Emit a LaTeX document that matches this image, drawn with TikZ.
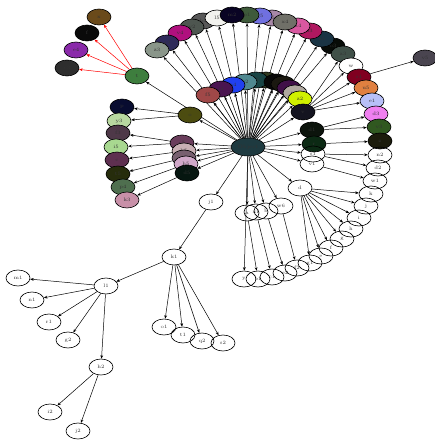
\documentclass[tikz,border=0pt]{standalone}
\usetikzlibrary{positioning, shapes.geometric, arrows.meta, backgrounds}

\begin{document}
\begin{tikzpicture}[x=1pt, y=-1pt,
        blob/.style={ellipse, draw=black, line width=0.6pt, minimum width=24pt, minimum height=16pt, inner sep=0pt, font=\fontsize{5}{5}\selectfont, text=black!80},
        link/.style={draw, line width=0.5pt, -{Stealth[length=3.5pt, width=2.8pt]}},
        red_link/.style={link, red}
    ]
        \useasboundingbox (0,0) rectangle (435,441);

        % Filled nodes (name/x/y/fill/label)
        \foreach \n/\x/\y/\c/\l in {r5/272/18/A888A8/r5, g5/260/16/7070E0/g5, p1/247/15/3E5A3A/p1,
            b4/203/21/585858/b4, l5/217/18/F2F2EE/l5, m2/232/15/0A0424/m2, y2/192/27/4E5650/y2,
            v4/180/33/B0107E/v4, g3/167/43/2E2A5A/g3, z3/157/50/8A968A/z3,
            o3/333/46/080C08/o3, z5/322/39/1A3444/z5, i3/310/31/B01860/i3, a4/298/26/D858A0/a4,
            x4/285/22/707068/x4, a3/343/54/405048/a3, w/351/66/FFFFFF/w, s4/359/77/800020/s4,
            u5/366/88/E08040/u5, e1/372/101/B8C0F8/e1, d3/376/114/F080F0/d3, v3/379/127/305820/v3,
            z/380/141/1C1C0C/z, v5/425/58/4A4550/v5,
            x5/266/80/303A20/x5, q5/256/80/184444/q5, u2/245/82/508890/u2, n4/233/85/2040F0/n4,
            i4/221/89/4A1450/i4, f5/208/95/A04848/f5, b3/276/82/080808/b3, h4/283/84/1A1810/h4,
            c2/289/88/401048/c2, m4/295/93/B0A8A0/m4, z2/300/99/D0F000/z2,
            v/303/112/141420/v, d1/312/130/0C140C/d1, r/314/144/0C2A14/r,
            x/99/17/6A4A1A/x, tf/87/33/0A0A0A/f, e4/76/50/8A2AAA/e4, c3/67/68/2E2E2E/c3,
            t/137/76/3E7E3E/t, o/190/115/4C4C10/o, p/122/107/080C30/p, y3/119/121/B8D8A0/y3,
            f3/118/133/4E3848/f3, i5/116/147/A8D890/i5, c/117/160/5E3050/c, t5/118/174/262C0C/t5,
            p4/123/187/4F6F4F/p4, k3/127/200/C890A8/k3,
            c5/182/143/6A3E5C/c5, b5/184/151/C8B0B4/b5, e5/184/158/786070/e5,
            h5/186/164/D0A8C8/h5, d5/187/173/061610/d5} {
            \definecolor{blobfill}{HTML}{\c}
            \node[blob, fill=blobfill] (\n) at (\x,\y) {\l};
        }

        % Plain nodes (name/x/y/label)
        \foreach \n/\x/\y/\l in {s1/313/154/s1, v1/312/164/v1, n2/380/155/n2, d2/378/168/d2, w1/375/181/w1,
            k/371/194/k, j/366/206/j, i/359/218/i, h/351/229/h, g/342/239/g, f/331/248/f, e/321/256/e,
            g1/310/263/g1, f2/297/268/f2, e2/285/273/e2, c1/272/277/c1, b1/258/279/b1, y/244/279/y,
            a/247/213/a, x1/256/212/x1, b/266/211/b, w6/281/206/w6,
            d/300/188/d, j1/211/202/j1, k1/174/257/k1, l1/106/286/l1, m1/18/278/m1, n1/32/300/n1,
            r1/49/322/r1, g2/68/340/g2, h2/101/367/h2, i2/50/412/i2, j2/78/431/j2,
            o1/164/327/o1, t1/183/335/t1, q2/202/341/q2, s2/223/343/s2} {
            \node[blob] (\n) at (\x,\y) {\l};
        }

        % Hub
        \node[blob, fill={rgb,255:red,30;green,58;blue,64}, minimum width=34pt, minimum height=18pt] (Object) at (248,147) {Object};

        % Edges
        \begin{scope}[on background layer]
            \foreach \a/\b in {Object/z3, Object/g3, Object/v4, Object/y2, Object/b4, Object/l5, Object/m2,
                Object/p1, Object/g5, Object/r5, Object/x4, Object/a4, Object/i3, Object/z5, Object/o3,
                Object/f5, Object/i4, Object/n4, Object/u2, Object/q5, Object/x5, Object/b3, Object/h4,
                Object/c2, Object/m4, Object/z2,
                Object/t, Object/o, Object/v, Object/c5, Object/b5, Object/e5, Object/h5, Object/d5,
                Object/d1, Object/r, Object/s1, Object/v1, Object/d, Object/j1,
                Object/a, Object/x1, Object/b, Object/w6, Object/y,
                v/a3, v/w, v/s4, v/u5, v/e1, s4/v5,
                d1/d3, d1/v3, r/z, s1/n2, s1/d2, v1/w1,
                o/p, o/y3, c5/f3, c5/i5, b5/c, e5/t5, h5/p4, d5/k3,
                d/k, d/j, d/i, d/h, d/g, d/f, d/e, d/g1,
                a/b1, x1/c1, b/e2, w6/f2,
                j1/k1, k1/l1, k1/o1, k1/t1, k1/q2, k1/s2,
                l1/m1, l1/n1, l1/r1, l1/g2, l1/h2, h2/i2, h2/j2} {
                \draw[link] (\a) -- (\b);
            }
            \foreach \b in {x, tf, e4, c3} {
                \draw[red_link] (t) -- (\b);
            }
        \end{scope}

    \end{tikzpicture}
\end{document}
